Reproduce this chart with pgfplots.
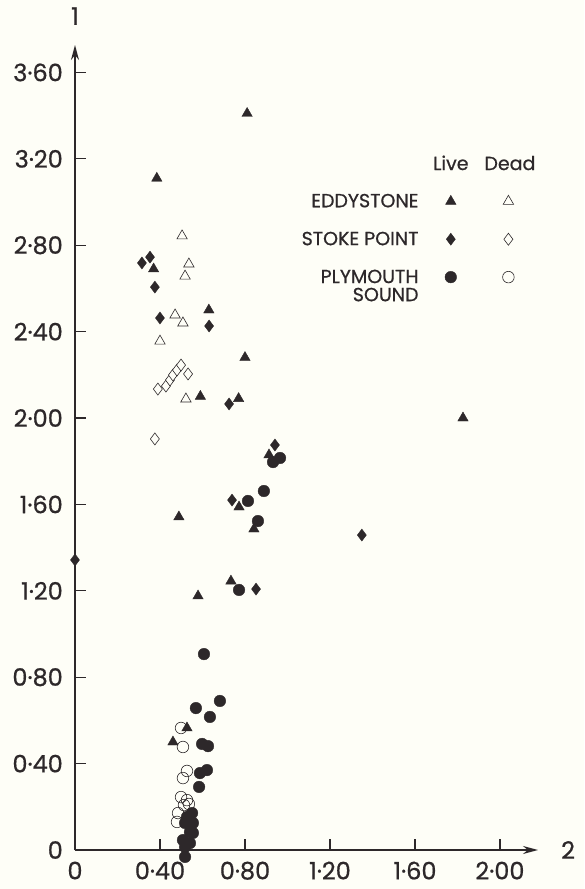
\documentclass[border=0pt]{standalone}
\usepackage{fontspec}
\setmainfont{Poppins}[FakeBold=0.7]
\usepackage{pgfplots}
\pgfplotsset{compat=1.18}
\usetikzlibrary{arrows.meta}
\definecolor{paper}{RGB}{254,254,247}
\definecolor{ink}{RGB}{45,40,42}
\newcommand{\tickfont}{\fontsize{24}{24}\selectfont}
\newcommand{\legfont}{\fontsize{19}{19}\selectfont}
\pgfplotsset{
  live/.style={only marks, mark options={draw=ink, fill=ink, line width=0.4pt}},
  dead/.style={only marks, mark options={draw=ink, fill=paper, line width=0.6pt}},
}
\begin{document}
\begin{tikzpicture}
\path[fill=paper, use as bounding box] (-75pt,-39pt) rectangle (509pt,850pt);
\begin{axis}[
  scale only axis, width=463pt, height=805pt,
  xmin=0, xmax=2.179, ymin=0, ymax=3.727,
  axis lines=left, clip=false,
  axis line style={line width=1.5pt, ink, -{Stealth[length=15pt,width=8pt]}},
  tick align=inside, major tick length=11pt,
  tick style={line width=1.1pt, ink},
  xtick={0,0.4,0.8,1.2,1.6,2.0},
  xticklabels={0,0·40,0·80,1·20,1·60,2·00},
  ytick={0,0.4,0.8,1.2,1.6,2.0,2.4,2.8,3.2,3.6},
  yticklabels={0,0·40,0·80,1·20,1·60,2·00,2·40,2·80,3·20,3·60},
  ticklabel style={font=\tickfont, inner sep=0pt, text=ink},
  xticklabel style={yshift=-11.5pt},
  yticklabel style={xshift=-12pt},
  xlabel={2}, ylabel={1},
  every axis x label/.style={at={(axis description cs:1,0)}, anchor=west, xshift=23pt, inner sep=0pt, font=\tickfont, text=ink},
  every axis y label/.style={at={(axis description cs:0,1)}, anchor=south, yshift=20pt, inner sep=0pt, font=\tickfont, text=ink},
  legend columns=2, legend plot pos=right, legend cell align=right,
  legend style={at={(axis cs:2.068,3.048)}, anchor=north east, draw=none, fill=none,
    inner sep=0pt, font=\legfont, text=ink, nodes={inner sep=2pt}, row sep=19pt,
    /tikz/every odd column/.append style={column sep=24.5pt},
    /tikz/every even column/.append style={column sep=17.5pt}},
]
% Eddystone, live
\addplot[live, mark=triangle*, mark size=6pt] coordinates {
  (0.81,3.41) (0.385,3.11) (0.37,2.69) (0.63,2.50) (0.80,2.28) (0.59,2.10)
  (0.77,2.09) (1.826,2.00) (0.913,1.829) (0.489,1.542) (0.772,1.588)
  (0.842,1.486) (0.734,1.245) (0.579,1.176) (0.461,0.50) (0.527,0.565)};
\addlegendentry{EDDYSTONE}
% Eddystone, dead
\addplot[dead, mark=triangle*, mark size=6pt] coordinates {
  (0.504,2.843) (0.536,2.713) (0.518,2.657) (0.471,2.477) (0.508,2.44)
  (0.40,2.356) (0.522,2.088)};
\addlegendentry{}
% Stoke Point, live
\addplot[live, mark=diamond*, mark size=6pt] coordinates {
  (0.315,2.718) (0.353,2.745) (0.376,2.606) (0.40,2.463) (0.631,2.426)
  (0.725,2.065) (0,1.343) (0.739,1.62) (0.852,1.208) (1.35,1.458) (0.941,1.875)};
\addlegendentry{STOKE POINT}
% Stoke Point, dead
\addplot[dead, mark=diamond*, mark size=6pt] coordinates {
  (0.376,1.903) (0.39,2.134) (0.428,2.148) (0.447,2.176) (0.461,2.199)
  (0.48,2.222) (0.499,2.245) (0.532,2.204)};
\addlegendentry{}
% Plymouth Sound, live
\addplot[live, mark=*, mark size=5.8pt] coordinates {
  (0.889,1.662) (0.814,1.616) (0.861,1.523) (0.772,1.204) (0.932,1.796)
  (0.965,1.815) (0.607,0.907) (0.682,0.69) (0.569,0.657) (0.635,0.616)
  (0.598,0.491) (0.626,0.481) (0.621,0.37) (0.588,0.356) (0.584,0.292)
  (0.551,0.171) (0.527,0.153) (0.518,0.125) (0.555,0.125) (0.541,0.083)
  (0.555,0.079) (0.508,0.046) (0.541,0.032) (0.518,0.014) (0.518,-0.032)};
\addlegendentry{\begin{tabular}[t]{@{}r@{}}PLYMOUTH\\[-1pt]SOUND\end{tabular}}
% Plymouth Sound, dead
\addplot[only marks, mark=o, mark size=5.8pt, mark options={draw=ink, line width=0.6pt}] coordinates {
  (0.499,0.565) (0.508,0.477) (0.527,0.366) (0.508,0.333) (0.499,0.245)
  (0.527,0.231) (0.513,0.208) (0.536,0.213) (0.485,0.171) (0.48,0.13)};
\addlegendentry{}
\node[anchor=base, font=\legfont, text=ink] at (axis cs:1.769,3.148) {Live};
\node[anchor=base, font=\legfont, text=ink] at (axis cs:2.047,3.148) {Dead};
\end{axis}
\end{tikzpicture}
\end{document}
